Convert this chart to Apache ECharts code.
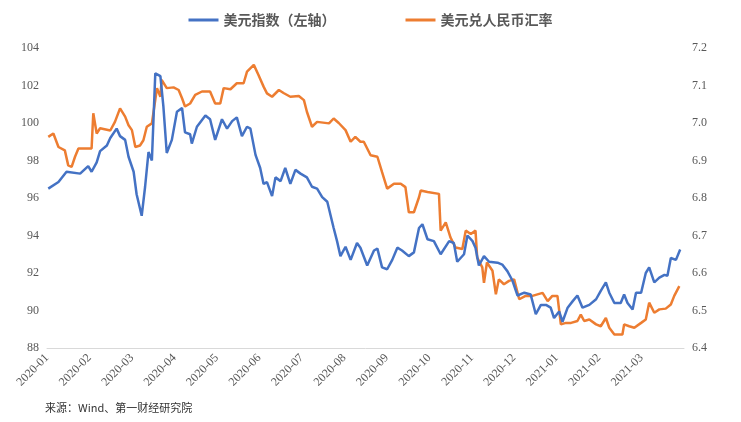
<!DOCTYPE html>
<html><head><meta charset="utf-8">
<script src="https://cdn.jsdelivr.net/npm/echarts@6/dist/echarts.min.js"></script>
<style>html,body{margin:0;padding:0;background:#fff}#c{width:741px;height:422px}</style>
</head><body><div id="c"></div>
<script>
const monthLabels = ['2020-01','2020-02','2020-03','2020-04','2020-05','2020-06','2020-07','2020-08','2020-09','2020-10','2020-11','2020-12','2021-01','2021-02','2021-03'];
// [month offset from 2020-01-01, value]
const dxy = [[0.03,96.5],[0.27,96.85],[0.46,97.4],[0.78,97.3],[0.97,97.7],[1.05,97.4],[1.17,97.9],[1.25,98.5],[1.41,98.8],[1.49,99.2],[1.64,99.7],[1.72,99.3],[1.84,99.1],[1.92,98.2],[2.04,97.4],[2.11,96.2],[2.23,95.05],[2.31,96.6],[2.39,98.45],[2.47,98.0],[2.55,102.65],[2.67,102.5],[2.74,100.9],[2.82,98.4],[2.94,99.1],[3.06,100.6],[3.18,100.8],[3.25,99.5],[3.37,99.4],[3.41,98.9],[3.53,99.8],[3.73,100.4],[3.84,100.2],[3.96,99.1],[4.12,100.2],[4.24,99.7],[4.36,100.1],[4.47,100.3],[4.59,99.3],[4.71,99.8],[4.79,99.7],[4.91,98.3],[5.02,97.6],[5.10,96.75],[5.18,96.85],[5.30,96.1],[5.38,97.1],[5.50,96.9],[5.61,97.6],[5.73,96.75],[5.85,97.5],[5.97,97.3],[6.12,97.1],[6.24,96.6],[6.36,96.5],[6.48,96.05],[6.60,95.8],[6.75,94.4],[6.83,93.7],[6.91,92.9],[7.03,93.4],[7.15,92.7],[7.30,93.6],[7.38,93.35],[7.54,92.4],[7.70,93.2],[7.78,93.3],[7.89,92.3],[8.01,92.2],[8.13,92.7],[8.25,93.35],[8.36,93.2],[8.52,92.9],[8.64,93.1],[8.76,94.4],[8.84,94.6],[8.96,93.8],[9.11,93.7],[9.27,93.0],[9.47,93.7],[9.58,93.6],[9.66,92.6],[9.82,93.0],[9.90,94.0],[10.02,93.7],[10.09,93.35],[10.17,92.4],[10.29,92.9],[10.41,92.6],[10.61,92.55],[10.72,92.45],[10.84,92.1],[10.96,91.6],[11.08,90.8],[11.24,90.95],[11.39,90.85],[11.51,89.8],[11.63,90.3],[11.75,90.3],[11.86,90.15],[11.94,89.6],[12.06,89.95],[12.14,89.4],[12.26,90.15],[12.38,90.5],[12.49,90.8],[12.61,90.15],[12.77,90.3],[12.93,90.6],[13.04,91.05],[13.16,91.5],[13.24,90.95],[13.36,90.4],[13.51,90.4],[13.59,90.85],[13.67,90.4],[13.79,90.05],[13.87,90.95],[13.99,90.95],[14.10,92.0],[14.18,92.3],[14.30,91.5],[14.42,91.75],[14.54,91.9],[14.61,91.85],[14.69,92.8],[14.81,92.7],[14.91,93.25]];
const usdcny = [[0.03,6.963],[0.15,6.972],[0.19,6.976],[0.27,6.936],[0.42,6.927],[0.50,6.887],[0.58,6.883],[0.66,6.91],[0.74,6.932],[1.05,6.932],[1.09,7.026],[1.17,6.972],[1.25,6.986],[1.49,6.98],[1.60,7.003],[1.72,7.039],[1.84,7.017],[1.92,6.994],[2.00,6.981],[2.08,6.936],[2.19,6.94],[2.27,6.954],[2.35,6.99],[2.47,6.999],[2.59,7.093],[2.67,7.07],[2.70,7.115],[2.82,7.093],[2.98,7.095],[3.10,7.088],[3.18,7.066],[3.25,7.044],[3.37,7.052],[3.49,7.075],[3.65,7.084],[3.84,7.084],[3.96,7.052],[4.08,7.052],[4.16,7.093],[4.32,7.09],[4.47,7.106],[4.63,7.106],[4.71,7.137],[4.87,7.155],[4.98,7.128],[5.10,7.097],[5.18,7.079],[5.30,7.07],[5.46,7.088],[5.57,7.08],[5.73,7.07],[5.93,7.072],[6.05,7.061],[6.12,7.03],[6.24,6.99],[6.36,7.003],[6.64,6.999],[6.75,7.012],[6.87,7.0],[7.03,6.981],[7.15,6.95],[7.26,6.963],[7.38,6.95],[7.46,6.95],[7.62,6.914],[7.78,6.91],[7.89,6.869],[8.01,6.825],[8.17,6.838],[8.33,6.838],[8.44,6.829],[8.52,6.762],[8.64,6.762],[8.76,6.802],[8.80,6.82],[8.96,6.816],[9.23,6.811],[9.27,6.713],[9.39,6.735],[9.50,6.695],[9.62,6.668],[9.78,6.664],[9.86,6.713],[9.98,6.704],[10.09,6.713],[10.13,6.641],[10.25,6.615],[10.29,6.574],[10.36,6.628],[10.49,6.606],[10.57,6.543],[10.64,6.583],[10.76,6.57],[10.88,6.579],[11.00,6.583],[11.12,6.53],[11.27,6.539],[11.43,6.539],[11.55,6.543],[11.67,6.547],[11.79,6.525],[11.90,6.539],[12.02,6.539],[12.10,6.463],[12.22,6.467],[12.34,6.467],[12.49,6.472],[12.57,6.489],[12.65,6.472],[12.77,6.476],[12.93,6.463],[13.04,6.458],[13.16,6.48],[13.24,6.454],[13.36,6.436],[13.55,6.436],[13.59,6.463],[13.71,6.458],[13.83,6.454],[13.99,6.467],[14.10,6.476],[14.18,6.521],[14.30,6.494],[14.42,6.503],[14.57,6.505],[14.69,6.516],[14.77,6.539],[14.89,6.565]];
const leftTicks = {min:88,max:104,interval:2};
const rightTicks = {min:6.4,max:7.2,interval:0.1};

const chart = echarts.init(document.getElementById('c'));
const numFont = {fontFamily:'Liberation Serif, serif', fontSize:12, color:'#595959'};
chart.setOption({
  animation:false,
  legend:{top:8, left:'center', itemGap:70, itemWidth:30, itemHeight:3,
    textStyle:{fontFamily:'Noto Sans CJK SC', fontSize:14, fontWeight:'bold', color:'#595959'},
    data:[{name:'美元指数（左轴）', icon:'rect'},{name:'美元兑人民币汇率', icon:'rect'}]},
  grid:{left:47,right:57,top:48,bottom:74},
  xAxis:{type:'value',min:0,max:15,interval:1,
    axisLine:{lineStyle:{color:'#d9d9d9'}},axisTick:{show:false},splitLine:{show:false},
    axisLabel:Object.assign({rotate:45, formatter:v=>monthLabels[v]||'', fontSize:11},numFont)},
  yAxis:[
    Object.assign({type:'value',axisLine:{show:false},axisTick:{show:false},splitLine:{show:false},axisLabel:Object.assign({formatter:v=>String(Math.round(v))},numFont)},leftTicks),
    Object.assign({type:'value',axisLine:{show:false},axisTick:{show:false},splitLine:{show:false},axisLabel:Object.assign({formatter:v=>v.toFixed(1)},numFont)},rightTicks)
  ],
  series:[
    {name:'美元指数（左轴）',type:'line',data:dxy,yAxisIndex:0,showSymbol:false,lineStyle:{width:2.5,color:'#4472c4'},itemStyle:{color:'#4472c4'},z:3},
    {name:'美元兑人民币汇率',type:'line',data:usdcny,yAxisIndex:1,showSymbol:false,lineStyle:{width:2.5,color:'#ed7d31'},itemStyle:{color:'#ed7d31'},z:2}
  ],
  graphic:[{type:'text',left:45,top:402,style:{text:'来源：Wind、第一财经研究院',fontSize:11,fill:'#333',fontFamily:'Noto Sans CJK SC'}}]
});
</script></body></html>
